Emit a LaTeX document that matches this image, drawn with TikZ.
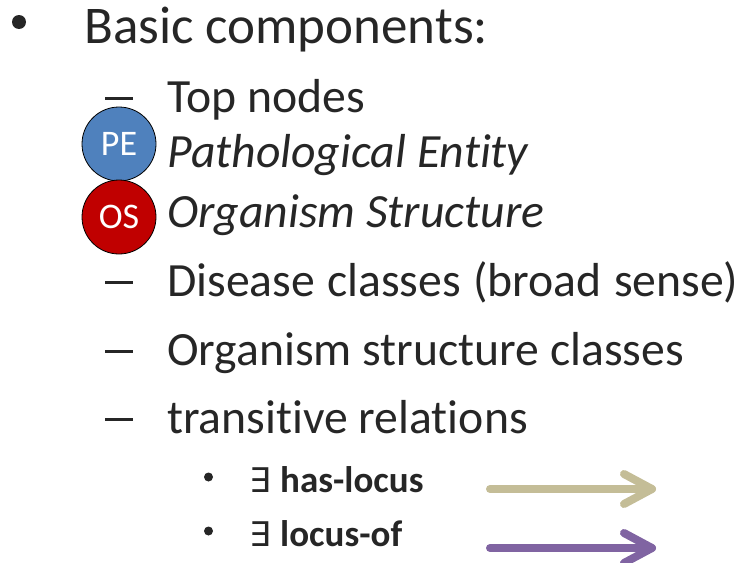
\documentclass[tikz,border=0pt]{standalone}
\usepackage{fontspec}
\setmainfont{Carlito}[Ligatures=NoCommon]
\newfontfamily\logicfont{DejaVu Sans}[Scale=1]
\begin{document}
\begin{tikzpicture}[x=1pt,y=-1pt,
  txt/.style={anchor=base west,inner sep=0pt,text=ink},
  lvlone/.style={txt,font=\fontsize{53}{60}\selectfont},
  lvltwo/.style={txt,font=\fontsize{47.7}{54}\selectfont},
  lvlthree/.style={txt,font=\fontsize{37}{42}\selectfont\bfseries},
  dot/.style={circle,fill=ink,inner sep=0pt},
  dashmark/.style={txt,anchor=base west},
  badge/.style={circle,draw=black,line width=0.8pt,minimum size=74pt,inner sep=0pt,
    text=white,font=\fontsize{36}{40}\selectfont},
  relarrow/.style={line width=8pt,line cap=round,line join=round}]
\definecolor{ink}{HTML}{262626}
\definecolor{peblue}{HTML}{4F81BD}
\definecolor{osred}{HTML}{C00000}
\definecolor{haslocus}{HTML}{C4BD97}
\definecolor{locusof}{HTML}{8064A2}
\useasboundingbox (0,0) rectangle (741,562);

% first level
\node[dot,minimum size=14pt] (b1) at (19,22) {};
\node[lvlone] (basic) at (84,43) {Basic components:};

% second level (dashes drawn as short rules above the baseline)
\node[dashmark] (d1) at (105,112) {\color{ink}\rule[12pt]{28pt}{3.2pt}};
\node[lvltwo] (top) at (167,112) {Top nodes};
\node[lvltwo,font=\fontsize{47.7}{54}\selectfont\itshape] (pe) at (167,167) {Pathological Entity};
\node[lvltwo,font=\fontsize{47.7}{54}\selectfont\itshape] (os) at (167,227) {Organism Structure};
\node[dashmark] (d2) at (105,296) {\color{ink}\rule[12pt]{28pt}{3.2pt}};
\node[lvltwo] (dis) at (167,296) {Disease\hspace{1.5pt} classes\hspace{1.5pt} (broad\hspace{1.5pt} sense)};
\node[dashmark] (d3) at (105,365) {\color{ink}\rule[12pt]{28pt}{3.2pt}};
\node[lvltwo] (osc) at (167,365) {Organism structure classes};
\node[dashmark] (d4) at (105,433) {\color{ink}\rule[12pt]{28pt}{3.2pt}};
\node[lvltwo] (tr) at (167,433) {transitive relations};

% badges
\node[badge,fill=peblue] (pebadge) at (119,144) {PE};
\node[badge,fill=osred] (osbadge) at (119,217) {OS};

% third level
\node[dot,minimum size=9pt] (b2) at (208.5,477) {};
\node[txt,font=\fontsize{34}{40}\logicfont] (ex1) at (249,492) {∃};
\node[lvlthree] (hl) at (280,492) {has-locus};
\node[dot,minimum size=9pt] (b3) at (208.5,531) {};
\node[txt,font=\fontsize{34}{40}\logicfont] (ex2) at (249,546) {∃};
\node[lvlthree] (lo) at (280,546) {locus-of};

% relation arrows
\coordinate (hlA) at (490,489);
\coordinate (hlB) at (652,489);
\draw[relarrow,haslocus] (hlA) -- (hlB);
\draw[relarrow,haslocus] ([shift={(-28,-15)}]hlB) -- (hlB) -- ([shift={(-28,15)}]hlB);
\coordinate (loA) at (490,548);
\coordinate (loB) at (652,548);
\draw[relarrow,locusof] (loA) -- (loB);
\draw[relarrow,locusof] ([shift={(-28,-15)}]loB) -- (loB) -- ([shift={(-28,15)}]loB);
\end{tikzpicture}
\end{document}
